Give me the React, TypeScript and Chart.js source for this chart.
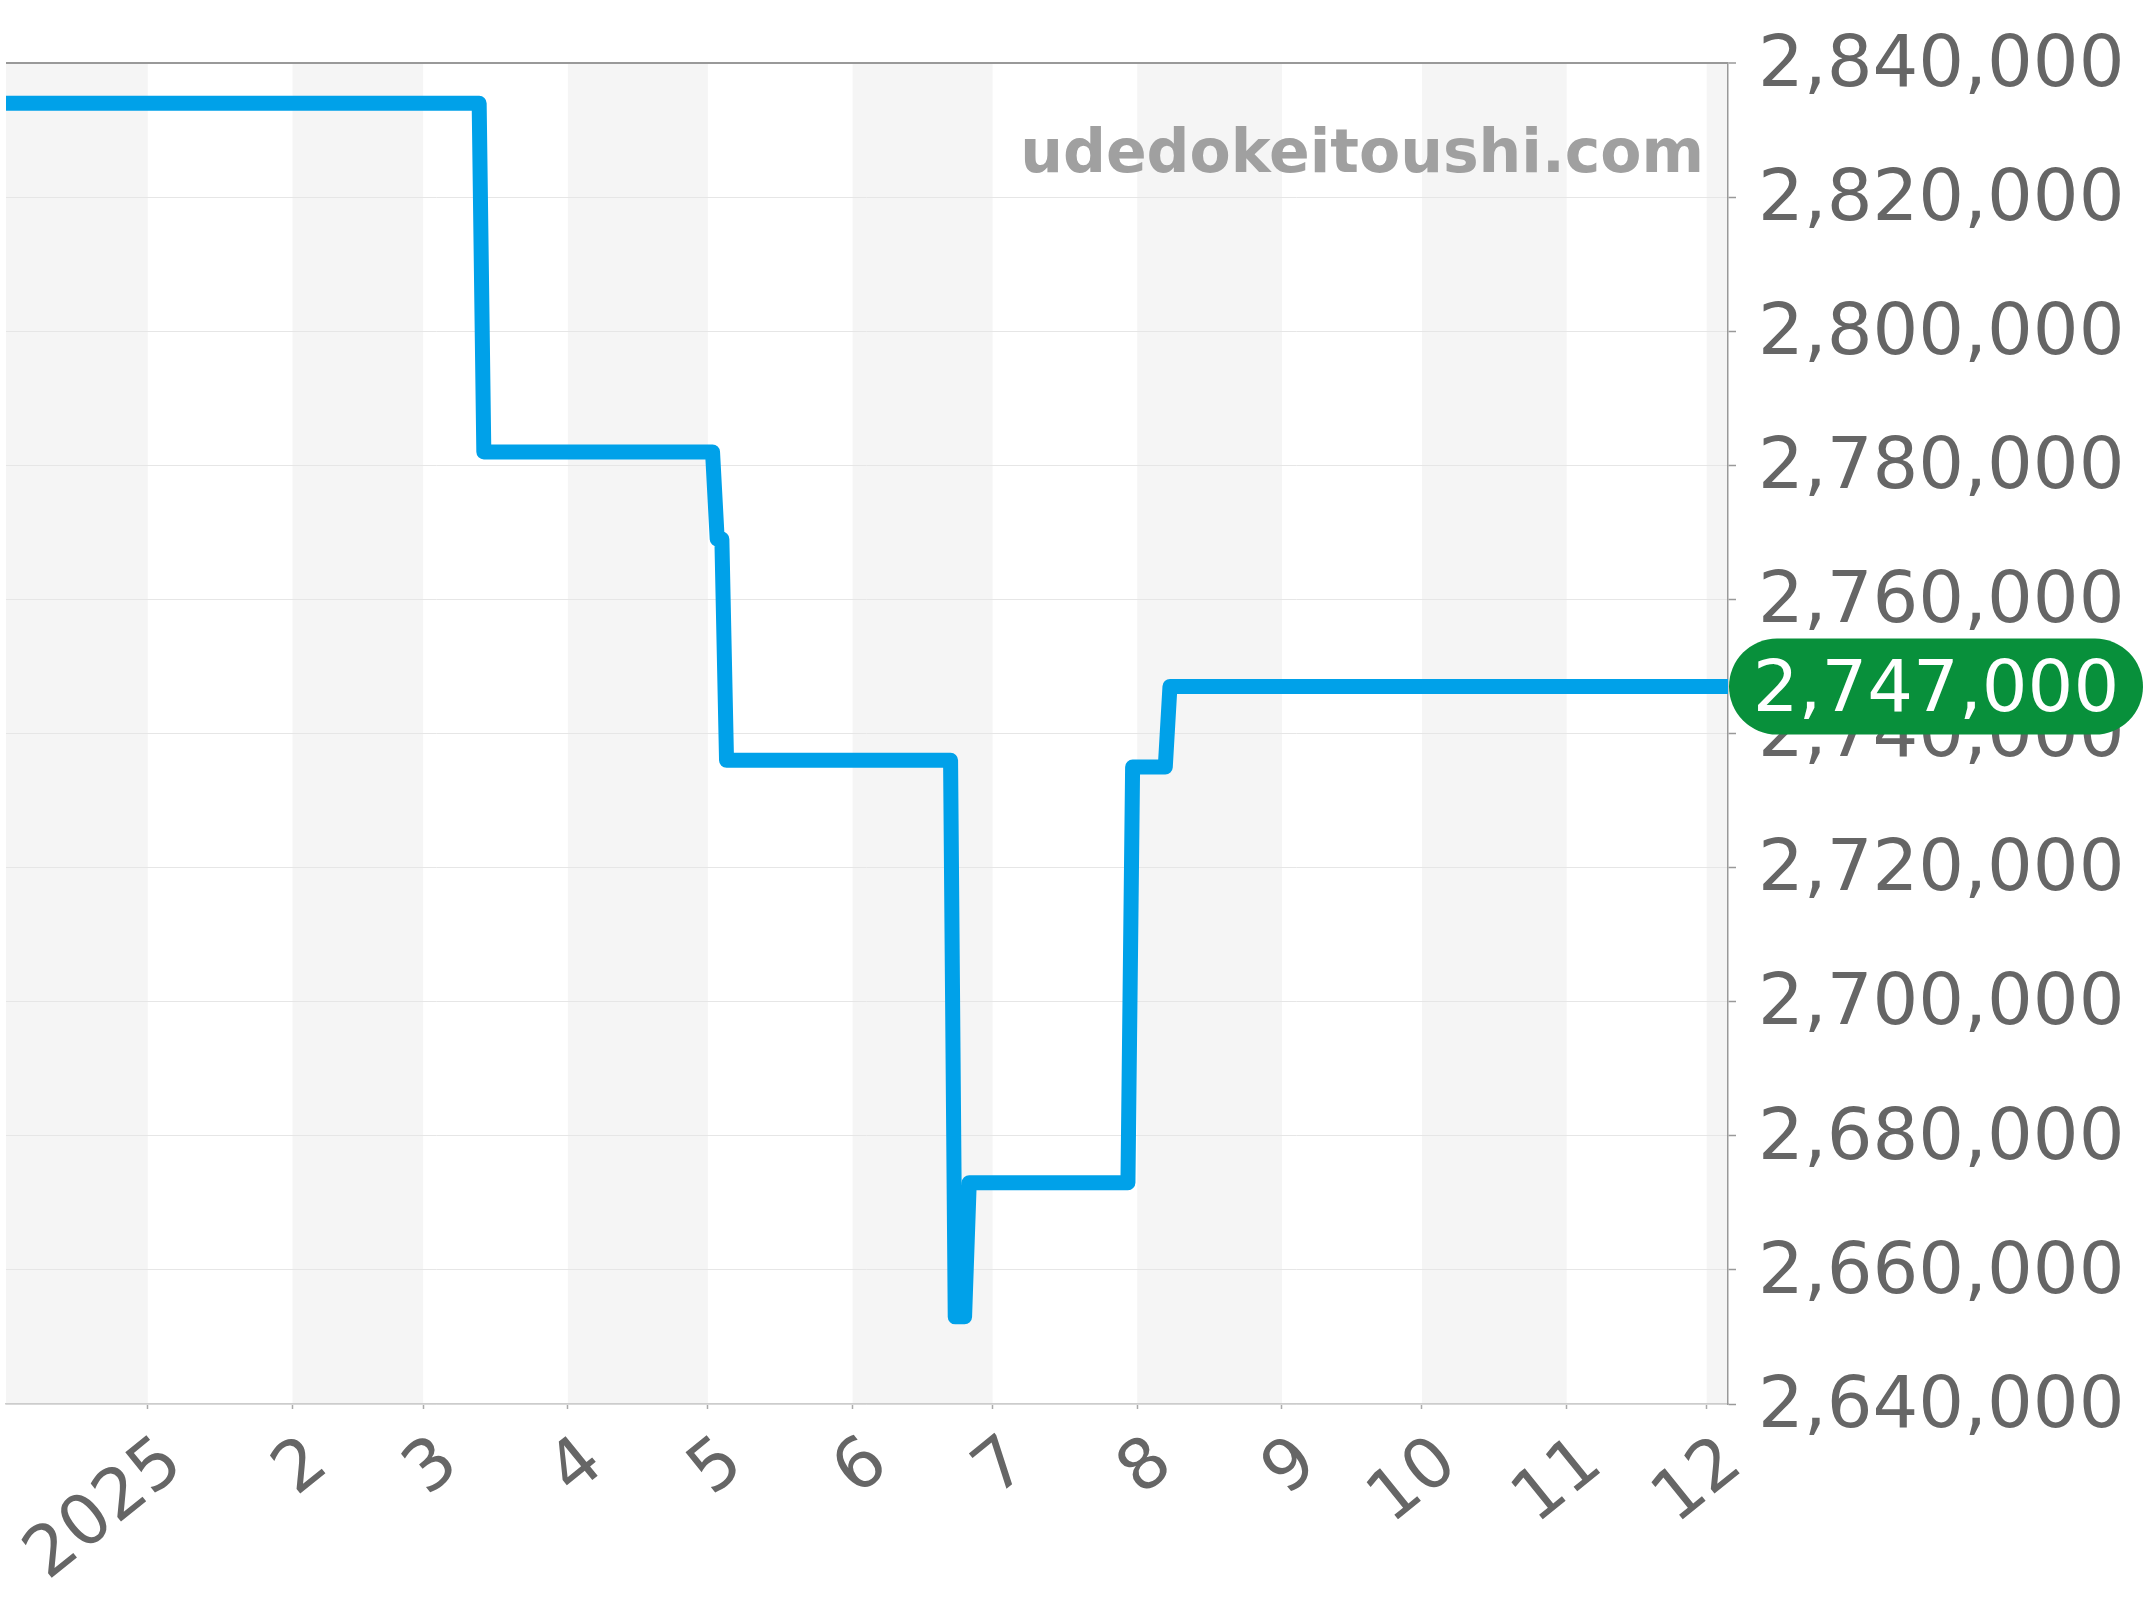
import React, { useEffect, useRef } from "react";
import { Chart, registerables } from "chart.js";

Chart.register(...registerables);

// ---- data ----
const priceDates = [
  "2024-12-01",
  "2025-03-13",
  "2025-03-14",
  "2025-05-02",
  "2025-05-03",
  "2025-05-04",
  "2025-05-05",
  "2025-06-22",
  "2025-06-23",
  "2025-06-25",
  "2025-06-26",
  "2025-07-30",
  "2025-07-31",
  "2025-08-07",
  "2025-08-08",
  "2025-12-10",
];
const priceValues = [
  2834000, 2834000, 2782000, 2782000, 2769000, 2769000, 2736000, 2736000,
  2653000, 2653000, 2673000, 2673000, 2735000, 2735000, 2747000, 2747000,
];
const monthStarts = [
  "2024-12-01",
  "2025-01-01",
  "2025-02-01",
  "2025-03-01",
  "2025-04-01",
  "2025-05-01",
  "2025-06-01",
  "2025-07-01",
  "2025-08-01",
  "2025-09-01",
  "2025-10-01",
  "2025-11-01",
  "2025-12-01",
  "2026-01-01",
];
const tickDates = monthStarts.slice(1, 13);
const tickLabels = ["2025", "2", "3", "4", "5", "6", "7", "8", "9", "10", "11", "12"];
const xRangeStart = "2024-12-01T15:00:00Z";
const xRangeEnd = "2025-12-05T13:30:00Z";
const yMin = 2640000;
const yMax = 2840000;
const yStep = 20000;
const latestValue = priceValues[priceValues.length - 1];
const watermark = "udedokeitoushi.com";

const FONT = "'DejaVu Sans', sans-serif";

const fmt = (v: number) => Math.round(v).toLocaleString("en-US");

const stripesPlugin = {
  id: "stripes",
  beforeDraw(chart: any) {
    const { ctx, chartArea } = chart;
    const xs = chart.scales.x;
    ctx.save();
    ctx.beginPath();
    ctx.rect(chartArea.left, chartArea.top, chartArea.right - chartArea.left, chartArea.bottom - chartArea.top);
    ctx.clip();
    ctx.fillStyle = "#f5f5f5";
    for (let i = 0; i < monthStarts.length - 1; i += 2) {
      const a = xs.getPixelForValue(Date.parse(monthStarts[i]));
      const b = xs.getPixelForValue(Date.parse(monthStarts[i + 1]));
      ctx.fillRect(a, chartArea.top, b - a, chartArea.bottom - chartArea.top);
    }
    ctx.restore();
  },
};

const watermarkPlugin = {
  id: "watermark",
  beforeDatasetsDraw(chart: any) {
    const { ctx, chartArea } = chart;
    ctx.save();
    ctx.font = `bold 60px ${FONT}`;
    ctx.fillStyle = "#a0a0a0";
    ctx.textAlign = "right";
    ctx.textBaseline = "alphabetic";
    ctx.fillText(watermark, chartArea.right - 24, chartArea.top + 109);
    ctx.restore();
  },
};

const badgePlugin = {
  id: "badge",
  afterDraw(chart: any) {
    const { ctx, chartArea } = chart;
    const y = chart.scales.y.getPixelForValue(latestValue);
    const left = chartArea.right + 1;
    const right = chart.width - 1;
    const h = 96;
    const r = h / 2;
    ctx.save();
    ctx.fillStyle = "#08903b";
    ctx.beginPath();
    ctx.moveTo(left + r, y - r);
    ctx.lineTo(right - r, y - r);
    ctx.arc(right - r, y, r, -Math.PI / 2, Math.PI / 2);
    ctx.lineTo(left + r, y + r);
    ctx.arc(left + r, y, r, Math.PI / 2, (3 * Math.PI) / 2);
    ctx.closePath();
    ctx.fill();
    ctx.font = `72px ${FONT}`;
    ctx.fillStyle = "#ffffff";
    ctx.textAlign = "center";
    ctx.textBaseline = "middle";
    ctx.fillText(fmt(latestValue), (left + right) / 2, y + 6);
    ctx.restore();
  },
};

export default function App() {
  const ref = useRef<HTMLCanvasElement | null>(null);

  useEffect(() => {
    if (!ref.current) return;
    Chart.defaults.font.family = FONT;
    Chart.defaults.color = "#666";
    const chart = new Chart(ref.current, {
      type: "line",
      data: {
        datasets: [
          {
            data: priceDates.map((d, i) => ({ x: Date.parse(d), y: priceValues[i] })),
            borderColor: "#00a1e9",
            backgroundColor: "#00a1e9",
            borderWidth: 15,
            pointRadius: 0,
            pointHoverRadius: 0,
            tension: 0,
            fill: false,
            borderJoinStyle: "round",
            borderCapStyle: "butt",
            clip: 0,
          } as any,
        ],
      },
      options: {
        animation: false,
        responsive: false,
        devicePixelRatio: 1,
        layout: { padding: { left: 6, top: 63, right: 0, bottom: 0 } },
        plugins: {
          legend: { display: false },
          tooltip: { enabled: false },
        },
        scales: {
          x: {
            type: "linear",
            position: "bottom",
            min: Date.parse(xRangeStart),
            max: Date.parse(xRangeEnd),
            afterBuildTicks: (scale: any) => {
              scale.ticks = tickDates.map((d) => ({ value: Date.parse(d) }));
            },
            afterFit: (scale: any) => {
              scale.height = 196;
              scale.paddingLeft = 0;
              scale.paddingRight = 0;
            },
            ticks: {
              autoSkip: false,
              minRotation: 39,
              maxRotation: 39,
              padding: 13,
              labelOffset: 27,
              color: "#666",
              font: { size: 70, family: FONT },
              callback: (_v: any, i: number) => tickLabels[i],
            },
            grid: {
              display: true,
              drawOnChartArea: false,
              drawTicks: true,
              tickLength: 5,
              tickColor: "#aaaaaa",
              tickWidth: 1.5,
            },
            border: { display: true, color: "#cccccc", width: 1.5 },
          },
          y: {
            type: "linear",
            position: "right",
            min: yMin,
            max: yMax,
            afterFit: (scale: any) => {
              scale.width = 416;
              scale.paddingTop = 0;
              scale.paddingBottom = 0;
            },
            ticks: {
              stepSize: yStep,
              padding: 22,
              labelOffset: 4,
              color: "#666",
              font: { size: 72, family: FONT },
              callback: (v: any) => fmt(Number(v)),
            },
            grid: {
              color: (c: any) => (c.tick && c.tick.value === yMax ? "#999999" : "#e6e6e6"),
              lineWidth: (c: any) => (c.tick && c.tick.value === yMax ? 2 : 1),
              tickLength: 8,
              tickColor: "#999999",
              tickWidth: 1.5,
            },
            border: { display: true, color: "#999999", width: 1.5 },
          },
        },
      },
      plugins: [stripesPlugin, watermarkPlugin, badgePlugin],
    });
    return () => chart.destroy();
  }, []);

  return (
    <div style={{ position: "absolute", left: 0, top: 0, width: 2144, height: 1600, background: "#fff" }}>
      <canvas ref={ref} width={2144} height={1600} style={{ display: "block", width: 2144, height: 1600 }} />
    </div>
  );
}
